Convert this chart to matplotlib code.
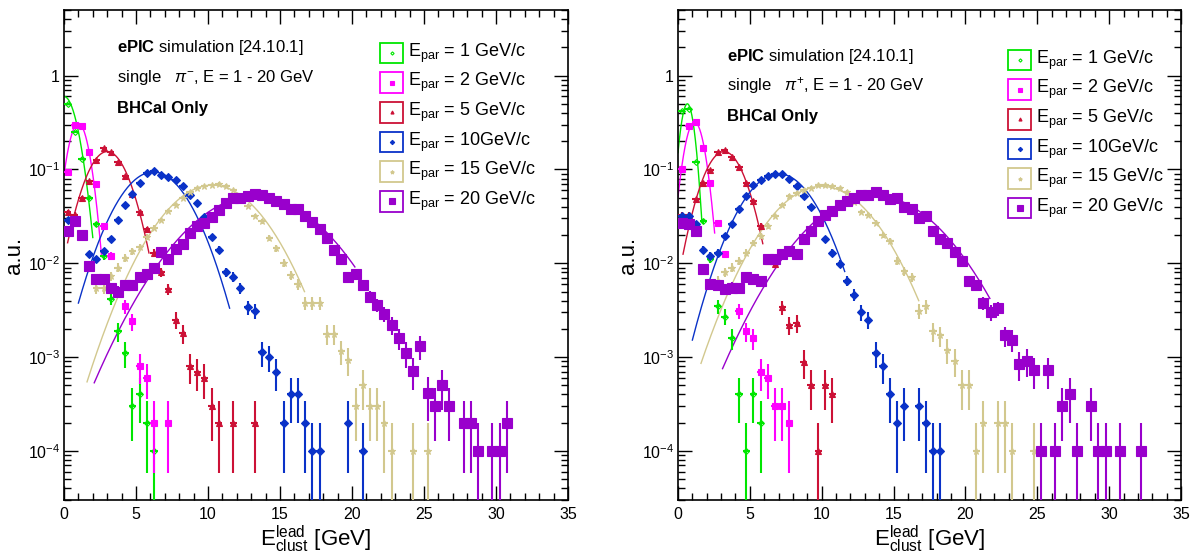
import numpy as np
import matplotlib
matplotlib.use("Agg")
import matplotlib.pyplot as plt
from matplotlib.patches import Rectangle
from matplotlib.ticker import MultipleLocator, LogLocator, FuncFormatter, NullFormatter

plt.rcParams['font.family'] = ['Liberation Sans', 'DejaVu Sans']
plt.rcParams['mathtext.fontset'] = 'custom'
plt.rcParams['mathtext.rm'] = 'Liberation Sans'
plt.rcParams['mathtext.it'] = 'Liberation Sans:italic'
plt.rcParams['mathtext.bf'] = 'Liberation Sans:bold'

# one entry per histogram = 1e-4, errors are sqrt(N)
n_events = 10000

energies = [1, 2, 5, 10, 15, 20]
legend_labels = [r"E$_{\rm par}$ = 1 GeV/c", r"E$_{\rm par}$ = 2 GeV/c",
                 r"E$_{\rm par}$ = 5 GeV/c", r"E$_{\rm par}$ = 10GeV/c",
                 r"E$_{\rm par}$ = 15 GeV/c", r"E$_{\rm par}$ = 20 GeV/c"]
colors = ['#00E600', '#FF00FF', '#CC1136', '#0A32C8', '#D2C88E', '#9900CC']
markers = ['D', 's', '^', 'D', '*', 's']
msizes = [3, 4, 4, 4, 5, 7.5]

# ---------------- pi- (left panel) ----------------
neg_x_1 = [0.25, 0.75, 1.25, 1.75, 2.25, 2.75, 3.25, 3.75, 4.25, 4.75, 5.25, 5.75, 6.25]
neg_y_1 = [0.50, 0.25, 0.13, 0.05, 0.026, 0.012, 0.0042, 0.0019, 0.0011, 3e-4, 4e-4, 2e-4, 1e-4]

neg_x_2 = [0.25, 0.75, 1.25, 1.75, 2.25, 2.75, 3.25, 4.25, 4.75, 5.25, 5.75, 6.25, 7.25]
neg_y_2 = [0.093, 0.30, 0.29, 0.155, 0.07, 0.025, 0.012, 0.0035, 0.0024, 8e-4, 6e-4, 2e-4, 2e-4]

neg_x_5 = [0.25, 0.75, 1.25, 1.75, 2.25, 2.75, 3.25, 3.75, 4.25, 4.75, 5.25, 5.75,
           6.25, 6.75, 7.25, 7.75, 8.25, 8.75, 9.25, 9.75, 10.25, 10.75, 11.75, 13.25]
neg_y_5 = [0.035, 0.033, 0.05, 0.075, 0.125, 0.17, 0.155, 0.12, 0.085, 0.055, 0.035, 0.023,
           0.013, 0.008, 0.0053, 0.0025, 0.0018, 8e-4, 7e-4, 6e-4, 3e-4, 2e-4, 2e-4, 2e-4]

neg_x_10 = [0.25, 1.75, 2.25, 2.75, 3.25, 3.75, 4.25, 4.75, 5.25, 5.75, 6.25, 6.75,
            7.25, 7.75, 8.25, 8.75, 9.25, 9.75, 10.25, 10.75, 11.25, 11.75, 12.25, 12.75,
            13.25, 13.75, 14.25, 14.75, 15.25, 15.75, 16.25, 16.75, 17.25, 17.75, 19.75, 20.75]
neg_y_10 = [0.029, 0.0125, 0.011, 0.0135, 0.018, 0.029, 0.042, 0.055, 0.071, 0.091, 0.096, 0.088,
            0.084, 0.077, 0.066, 0.054, 0.044, 0.031, 0.019, 0.014, 0.008, 0.0072, 0.0054, 0.0034,
            0.0031, 0.00113, 0.00101, 7e-4, 2e-4, 4e-4, 4e-4, 2e-4, 1e-4, 1e-4, 2e-4, 1e-4]

neg_x_15 = [2.25, 2.75, 3.25, 3.75, 4.25, 4.75, 5.25, 5.75, 6.25, 6.75, 7.25, 7.75,
            8.25, 8.75, 9.25, 9.75, 10.25, 10.75, 11.25, 11.75, 12.25, 12.75, 13.25, 13.75,
            14.25, 14.75, 15.25, 15.75, 16.25, 16.75, 17.25, 17.75, 18.25, 18.75, 19.25, 19.75,
            20.25, 20.75, 21.25, 21.75, 22.25, 22.75, 24.25, 25.25]
neg_y_15 = [0.0055, 0.0055, 0.0073, 0.009, 0.0115, 0.0135, 0.015, 0.019, 0.024, 0.029, 0.036, 0.042,
            0.049, 0.057, 0.063, 0.066, 0.068, 0.070, 0.067, 0.060, 0.052, 0.041, 0.032, 0.028,
            0.0187, 0.0144, 0.0101, 0.0075, 0.006, 0.0038, 0.0038, 0.0038, 0.00176, 0.00176, 0.00116, 9.3e-4,
            3e-4, 5e-4, 3e-4, 3e-4, 2e-4, 1e-4, 1e-4, 1e-4]

neg_x_20 = [0.25, 0.75, 1.25, 1.75, 2.25, 2.75, 3.25, 3.75, 4.25, 4.75, 5.25, 5.75,
            6.25, 6.75, 7.25, 7.75, 8.25, 8.75, 9.25, 9.75, 10.25, 10.75, 11.25, 11.75,
            12.25, 12.75, 13.25, 13.75, 14.25, 14.75, 15.25, 15.75, 16.25, 16.75, 17.25, 17.75,
            18.25, 18.75, 19.25, 19.75, 20.25, 20.75, 21.25, 21.75, 22.25, 22.75, 23.25, 23.75,
            24.25, 24.75, 25.25, 25.75, 26.25, 26.75, 27.75, 28.25, 28.75, 29.75, 30.25, 30.75]
neg_y_20 = [0.022, 0.028, 0.020, 0.0094, 0.0068, 0.0068, 0.0054, 0.0050, 0.0058, 0.0058, 0.0071, 0.0077,
            0.009, 0.0132, 0.011, 0.0141, 0.016, 0.021, 0.025, 0.027, 0.031, 0.037, 0.044, 0.050,
            0.050, 0.052, 0.055, 0.053, 0.050, 0.046, 0.043, 0.0375, 0.038, 0.032, 0.0276, 0.023,
            0.0187, 0.0139, 0.0112, 0.0071, 0.0076, 0.0058, 0.0044, 0.0036, 0.0029, 0.0022, 0.0016, 0.0011,
            7.1e-4, 0.0013, 4.1e-4, 3e-4, 5e-4, 3e-4, 2e-4, 2e-4, 1e-4, 1e-4, 1e-4, 2e-4]

# gaussian fits: amplitude, mean, sigma, range low, range high
neg_fits = [(0.60, 0.0, 0.76, 0.0, 2.0), (0.31, 1.0, 0.63, 0.0, 2.6),
            (0.155, 3.0, 1.3, 0.25, 5.9), (0.094, 6.2, 2.05, 1.0, 11.5),
            (0.068, 10.3, 2.8, 1.6, 16.7), (0.052, 13.3, 3.7, 2.1, 20.2)]

# ---------------- pi+ (right panel) ----------------
pos_x_1 = [0.25, 0.75, 1.25, 1.75, 2.25, 2.75, 3.25, 3.75, 4.25, 4.75, 5.25, 5.75]
pos_y_1 = [0.42, 0.44, 0.12, 0.028, 0.011, 0.0035, 0.0027, 0.0016, 4e-4, 1e-4, 4e-4, 2e-4]

pos_x_2 = [0.25, 0.75, 1.25, 1.75, 2.25, 2.75, 3.25, 4.25, 4.75, 5.25, 5.75, 6.25, 6.75, 7.25, 7.75]
pos_y_2 = [0.10, 0.29, 0.32, 0.17, 0.071, 0.027, 0.0125, 0.0031, 0.0019, 0.0016, 7e-4, 6e-4, 3e-4, 3e-4, 2e-4]

pos_x_5 = [0.25, 0.75, 1.25, 1.75, 2.25, 2.75, 3.25, 3.75, 4.25, 4.75, 5.25, 5.75,
           6.25, 6.75, 7.25, 7.75, 8.25, 8.75, 9.25, 9.75, 10.25, 10.75]
pos_y_5 = [0.033, 0.033, 0.048, 0.072, 0.098, 0.153, 0.16, 0.137, 0.107, 0.072, 0.046, 0.025,
           0.0105, 0.0098, 0.0034, 0.0022, 0.0023, 8.8e-4, 5e-4, 1e-4, 5e-4, 4e-4]

pos_x_10 = [0.25, 0.75, 1.25, 1.75, 2.25, 2.75, 3.25, 3.75, 4.25, 4.75, 5.25, 5.75,
            6.25, 6.75, 7.25, 7.75, 8.25, 8.75, 9.25, 9.75, 10.25, 10.75, 11.25, 11.75,
            12.25, 12.75, 13.25, 13.75, 14.25, 14.75, 15.25, 15.75, 16.75, 17.25, 17.75, 18.25]
pos_y_10 = [0.032, 0.032, 0.026, 0.014, 0.012, 0.013, 0.0195, 0.026, 0.038, 0.052, 0.068, 0.078,
            0.085, 0.090, 0.089, 0.080, 0.066, 0.052, 0.040, 0.028, 0.018, 0.013, 0.0098, 0.0065,
            0.0046, 0.0030, 0.0025, 0.0011, 8e-4, 4e-4, 2e-4, 3e-4, 3e-4, 2e-4, 1e-4, 1e-4]

pos_x_15 = [2.25, 2.75, 3.25, 3.75, 4.25, 4.75, 5.25, 5.75, 6.25, 6.75, 7.25, 7.75,
            8.25, 8.75, 9.25, 9.75, 10.25, 10.75, 11.25, 11.75, 12.25, 12.75, 13.25, 13.75,
            14.25, 14.75, 15.25, 15.75, 16.25, 16.75, 17.25, 17.75, 18.25, 18.75, 19.25, 19.75,
            20.25, 20.75, 21.25, 22.25, 22.75, 23.25, 24.75]
pos_y_15 = [0.006, 0.0065, 0.008, 0.009, 0.0105, 0.013, 0.0166, 0.0195, 0.025, 0.032, 0.042, 0.052,
            0.056, 0.061, 0.064, 0.068, 0.068, 0.066, 0.063, 0.058, 0.045, 0.035, 0.033, 0.027,
            0.020, 0.0173, 0.0106, 0.0083, 0.0071, 0.0031, 0.0035, 0.0019, 0.0017, 0.0012, 9.1e-4, 5e-4,
            5e-4, 1e-4, 2e-4, 2e-4, 2e-4, 1e-4, 1e-4]

pos_x_20 = [0.25, 0.75, 1.25, 1.75, 2.25, 2.75, 3.25, 3.75, 4.25, 4.75, 5.25, 5.75,
            6.25, 6.75, 7.25, 7.75, 8.25, 8.75, 9.25, 9.75, 10.25, 10.75, 11.25, 11.75,
            12.25, 12.75, 13.25, 13.75, 14.25, 14.75, 15.25, 15.75, 16.25, 16.75, 17.25, 17.75,
            18.25, 18.75, 19.25, 19.75, 20.25, 20.75, 21.25, 21.75, 22.25, 22.75, 23.25, 23.75,
            24.25, 24.75, 25.25, 25.75, 26.25, 26.75, 27.25, 27.75, 28.75, 29.25, 29.75, 30.75, 32.25]
pos_y_20 = [0.027, 0.026, 0.022, 0.0087, 0.006, 0.0058, 0.0053, 0.0055, 0.0054, 0.0071, 0.0068, 0.0064,
            0.011, 0.011, 0.0125, 0.0135, 0.0125, 0.018, 0.022, 0.028, 0.033, 0.036, 0.042, 0.046,
            0.050, 0.054, 0.054, 0.057, 0.054, 0.048, 0.049, 0.040, 0.0376, 0.0305, 0.032, 0.022,
            0.0183, 0.0164, 0.0132, 0.0106, 0.0065, 0.0058, 0.0038, 0.0030, 0.0033, 0.0017, 0.00153, 8.4e-4,
            9.1e-4, 7.2e-4, 1e-4, 7.2e-4, 1e-4, 3e-4, 4e-4, 1e-4, 3e-4, 1e-4, 1e-4, 1e-4, 1e-4]

pos_fits = [(0.50, 0.65, 0.42, 0.0, 1.65), (0.32, 1.15, 0.60, 0.0, 2.55),
            (0.155, 3.2, 1.27, 0.35, 5.9), (0.090, 7.0, 2.1, 1.0, 11.6),
            (0.066, 10.0, 2.85, 1.6, 16.75), (0.053, 13.6, 3.6, 3.1, 21.7)]

neg_series = [(neg_x_1, neg_y_1), (neg_x_2, neg_y_2), (neg_x_5, neg_y_5),
              (neg_x_10, neg_y_10), (neg_x_15, neg_y_15), (neg_x_20, neg_y_20)]
pos_series = [(pos_x_1, pos_y_1), (pos_x_2, pos_y_2), (pos_x_5, pos_y_5),
              (pos_x_10, pos_y_10), (pos_x_15, pos_y_15), (pos_x_20, pos_y_20)]


def yfmt(v, pos):
    if abs(v - 1) < 1e-9:
        return "1"
    return r"10$^{%d}$" % int(round(np.log10(v)))


def draw_panel(ax, series, fits, particle, txt_xy, leg_xy):
    for i, (xs, ys) in enumerate(series):
        xs = np.array(xs)
        ys = np.array(ys)
        err = np.sqrt(ys / n_events)
        ax.errorbar(xs, ys, xerr=0.25, yerr=err, fmt=markers[i], color=colors[i],
                    ms=msizes[i], mew=0.8, elinewidth=1.5, capsize=0,
                    fillstyle='none' if i == 0 else 'full', zorder=3 + i * 0.1)
        a, mu, s, lo, hi = fits[i]
        xf = np.linspace(lo, hi, 300)
        ax.plot(xf, a * np.exp(-0.5 * ((xf - mu) / s) ** 2), color=colors[i],
                lw=1.0, zorder=2)

    ax.set_yscale('log')
    ax.set_xlim(0, 35)
    ax.set_ylim(3e-5, 5)
    ax.xaxis.set_major_locator(MultipleLocator(5))
    ax.xaxis.set_minor_locator(MultipleLocator(1))
    ax.yaxis.set_major_locator(LogLocator(base=10, numticks=20))
    ax.yaxis.set_minor_locator(LogLocator(base=10, subs=np.arange(2, 10), numticks=20))
    ax.yaxis.set_major_formatter(FuncFormatter(yfmt))
    ax.yaxis.set_minor_formatter(NullFormatter())
    ax.tick_params(which='both', direction='in', top=True, right=True, labelsize=11.5, width=1)
    ax.tick_params(which='major', length=10, pad=5)
    ax.tick_params(which='minor', length=5)
    ax.tick_params(axis='y', which='major', pad=3)
    for sp in ax.spines.values():
        sp.set_linewidth(1.2)

    ax.set_xlabel(r"E$_{\rm clust}^{\rm lead}$ [GeV]", fontsize=16, labelpad=1)
    ax.set_ylabel("a.u.", fontsize=16, labelpad=2)

    tx, ty = txt_xy
    ax.text(tx, ty, r"$\bf{ePIC}$ simulation [24.10.1]", transform=ax.transAxes,
            fontsize=12, va='center', ha='left')
    ax.text(tx, ty - 0.061, "single   " + particle + ", E = 1 - 20 GeV",
            transform=ax.transAxes, fontsize=12, va='center', ha='left')
    ax.text(tx, ty - 0.124, "BHCal Only", transform=ax.transAxes, fontsize=12,
            fontweight='bold', va='center', ha='left')

    lx, ly = leg_xy
    for i in range(len(energies)):
        yc = ly - i * 0.0605
        ax.add_patch(Rectangle((lx, yc - 0.021), 0.046, 0.042, transform=ax.transAxes,
                               fill=False, edgecolor=colors[i], lw=1.3, clip_on=False))
        ax.plot([lx + 0.023], [yc], marker=markers[i], color=colors[i],
                ms=msizes[i] * 0.55 if i < 5 else 5, transform=ax.transAxes,
                fillstyle='none' if i == 0 else 'full', mew=0.8, clip_on=False)
        ax.text(lx + 0.056, yc, legend_labels[i], transform=ax.transAxes, fontsize=13,
                va='center', ha='left')


fig = plt.figure(figsize=(11.91, 5.54), dpi=100)
ax1 = fig.add_axes([64 / 1191, 54 / 554, 504 / 1191, 490 / 554])
ax2 = fig.add_axes([678 / 1191, 54 / 554, 503 / 1191, 490 / 554])

draw_panel(ax1, neg_series, neg_fits, r"$\pi^{-}$", (0.105, 0.924), (0.627, 0.912))
draw_panel(ax2, pos_series, pos_fits, r"$\pi^{+}$", (0.097, 0.906), (0.656, 0.898))

fig.savefig("out.png", dpi=100)
